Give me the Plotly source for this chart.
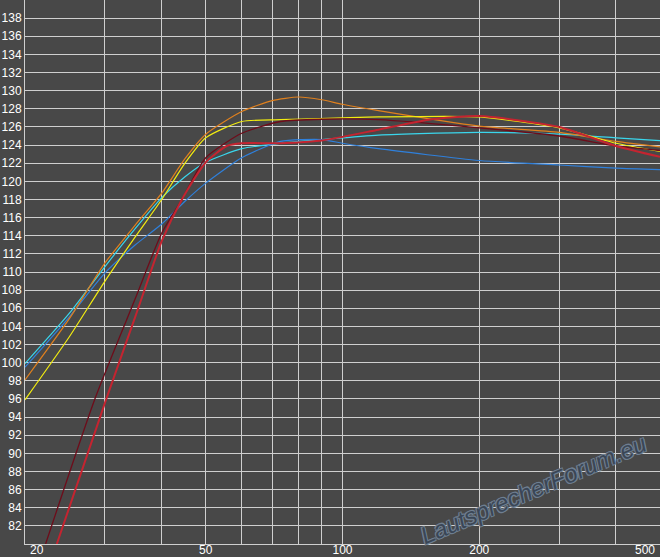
import plotly.graph_objects as go

# ---- data (frequency in Hz, level in dB) ----
cyan_f = [20, 25, 30, 35, 40, 45, 50, 60, 73, 90, 120, 200, 300, 400, 500]
cyan_db = [99.9, 105.4, 110.6, 114.8, 118.2, 120.5, 122.1, 123.6, 124.2, 124.6, 125.1, 125.4, 125.2, 124.8, 124.5]

blue_f = [20, 25, 30, 35, 40, 45, 50, 60, 73, 90, 100, 120, 200, 300, 400, 500]
blue_db = [99.5, 105.0, 109.9, 113.0, 115.3, 117.8, 119.8, 122.6, 124.4, 124.6, 124.2, 123.6, 122.3, 121.8, 121.45, 121.3]

orange_f = [20, 25, 30, 35, 40, 45, 50, 60, 70, 80, 90, 100, 120, 200, 300, 400, 500]
orange_db = [98.1, 104.8, 111.0, 115.2, 118.7, 122.5, 125.2, 127.7, 128.9, 129.3, 129.0, 128.5, 127.8, 126.1, 125.4, 124.4, 123.8]

yellow_f = [20, 25, 30, 35, 40, 45, 50, 60, 73, 100, 120, 200, 300, 400, 500]
yellow_db = [95.9, 102.8, 109.0, 113.9, 118.0, 122.0, 124.8, 126.6, 126.8, 127.0, 127.1, 127.1, 125.9, 124.2, 123.3]

maroon_f = [22.2, 28.5, 35, 40, 44.3, 50, 60, 73, 90, 120, 200, 300, 400, 500]
maroon_db = [80, 96, 107.1, 114.3, 118.0, 122.6, 125.3, 126.6, 126.85, 126.8, 125.9, 125.0, 123.9, 123.4]

red_f = [23.5, 30.2, 35, 40, 44.3, 50, 55.6, 60, 73, 90, 120, 155, 200, 300, 400, 500]
red_db = [80, 96, 105.1, 113.4, 118.0, 122.1, 123.9, 124.2, 124.2, 124.5, 125.7, 126.8, 127.2, 126.0, 123.9, 122.7]

x_grid = [20, 30, 40, 50, 60, 70, 80, 90, 100, 200, 300, 400, 500]
x_labels = {20: "\u00a0" * 7 + "20", 50: "50", 100: "100", 200: "200", 500: "500" + "\u00a0" * 9}
y_grid = list(range(82, 139, 2))

BG = "#484848"
GRID = "#cfcfcf"

series = [
    (cyan_f, cyan_db, "#3ad6ec", 1.2),
    (blue_f, blue_db, "#2f80dc", 1.2),
    (orange_f, orange_db, "#e0801e", 1.2),
    (yellow_f, yellow_db, "#f2ec10", 1.2),
    (maroon_f, maroon_db, "#6e0c1a", 1.3),
    (red_f, red_db, "#c42430", 2.0),
]

fig = go.Figure()
for f, db, col, w in series:
    fig.add_trace(go.Scatter(x=f, y=db, mode="lines",
                             line=dict(color=col, width=w, shape="spline", smoothing=0.6),
                             hoverinfo="skip", showlegend=False))

tick_font = dict(family="Liberation Sans, Arial, sans-serif", size=12, color="#ffffff")

fig.update_xaxes(type="log", range=[1.30103, 2.69897],
                 tickmode="array", tickvals=x_grid,
                 ticktext=[x_labels.get(v, "") for v in x_grid],
                 showgrid=True, gridcolor=GRID, gridwidth=1,
                 showline=True, linecolor=GRID, linewidth=1,
                 ticks="", zeroline=False, tickfont=tick_font,
                 automargin=False, ticklabelstandoff=-5,
                 ticklabeloverflow="allow")
fig.update_yaxes(range=[80, 140], tickmode="array", tickvals=y_grid,
                 ticktext=[str(v) for v in y_grid],
                 showgrid=True, gridcolor=GRID, gridwidth=1,
                 showline=True, linecolor=GRID, linewidth=1,
                 ticks="", zeroline=False, tickfont=tick_font,
                 automargin=False, ticklabeloverflow="allow")

fig.add_annotation(text="LautsprecherForum.eu", xref="paper", yref="paper",
                   x=0.80, y=0.10, xanchor="center", yanchor="middle",
                   showarrow=False, textangle=-23,
                   font=dict(family="Liberation Sans, Arial, sans-serif", size=24,
                             color="#3a4656", style="italic",
                             shadow="1px 1px 0 #6e7e90, -1px -1px 0 #6e7e90, 1px -1px 0 #6e7e90, -1px 1px 0 #6e7e90"))

fig.update_layout(width=660, height=557,
                  margin=dict(l=25, r=0, t=0, b=13),
                  paper_bgcolor=BG, plot_bgcolor=BG)

# remove the browser's default 8px body margin so the figure fills the window
fig.write_html("out.html", config={"displayModeBar": False},
               post_script="document.body.style.margin='0px';document.body.style.overflow='hidden';document.body.style.background='#484848';")
